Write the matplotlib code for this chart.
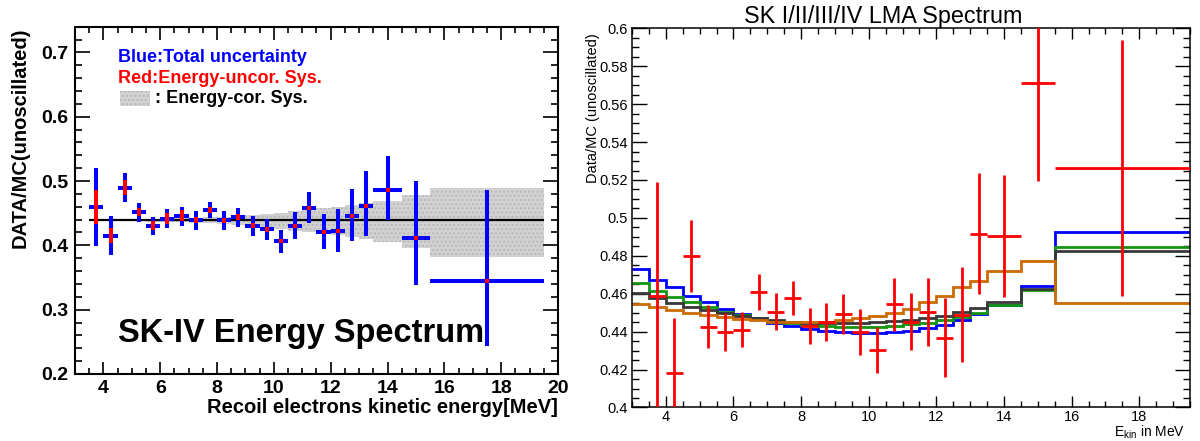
import matplotlib
matplotlib.use("Agg")
import matplotlib.pyplot as plt
from matplotlib.ticker import MultipleLocator
import numpy as np

plt.rcParams["font.family"] = ["Liberation Sans", "DejaVu Sans"]
plt.rcParams["mathtext.fontset"] = "custom"
plt.rcParams["mathtext.rm"] = "Liberation Sans"
plt.rcParams["mathtext.it"] = "Liberation Sans"

# ---- data: energy bins (MeV) ----
bin_lo = [3.5, 4.0, 4.5, 5.0, 5.5, 6.0, 6.5, 7.0, 7.5, 8.0, 8.5, 9.0, 9.5,
          10.0, 10.5, 11.0, 11.5, 12.0, 12.5, 13.0, 13.5, 14.5, 15.5]
bin_hi = [4.0, 4.5, 5.0, 5.5, 6.0, 6.5, 7.0, 7.5, 8.0, 8.5, 9.0, 9.5, 10.0,
          10.5, 11.0, 11.5, 12.0, 12.5, 13.0, 13.5, 14.5, 15.5, 19.5]

# SK-IV data/MC (left panel)
sk4_ratio = [0.4595, 0.415, 0.4898, 0.4519, 0.4307, 0.4416, 0.4457, 0.4395,
             0.4545, 0.439, 0.4437, 0.4307, 0.425, 0.4068, 0.4307, 0.4587,
             0.4203, 0.4224, 0.4452, 0.4618, 0.4862, 0.411, 0.3446]
sk4_tot_lo = [0.06, 0.03, 0.023, 0.015, 0.0145, 0.0143, 0.015, 0.0155, 0.0125,
              0.015, 0.0156, 0.0156, 0.0166, 0.018, 0.0207, 0.0244, 0.0264,
              0.032, 0.0384, 0.048, 0.047, 0.073, 0.101]
sk4_tot_hi = [0.06, 0.03, 0.0225, 0.0146, 0.014, 0.015, 0.0145, 0.0145, 0.0135,
              0.0145, 0.014, 0.015, 0.016, 0.0172, 0.0218, 0.025, 0.0285,
              0.034, 0.042, 0.054, 0.053, 0.089, 0.1416]
sk4_uncor = [0.027, 0.012, 0.012, 0.006, 0.0075, 0.009, 0.0085, 0.004, 0.0045,
             0.004, 0.005, 0.004, 0.004, 0.003, 0.003, 0.003, 0.003, 0.003,
             0.003, 0.003, 0.003, 0.003, 0.003]
flat_ratio = 0.439

# energy-correlated systematic band
band_edges = [5.5, 6.0, 6.5, 7.0, 7.5, 8.0, 8.5, 9.0, 9.5, 10.0, 10.5, 11.0,
              11.5, 12.0, 12.5, 13.0, 13.5, 14.5, 15.5, 19.5]
band_top = [0.441, 0.4415, 0.442, 0.4425, 0.4437, 0.4443, 0.4455, 0.4473,
            0.4488, 0.4509, 0.4535, 0.455, 0.4576, 0.4602, 0.4628, 0.4665,
            0.4696, 0.4784, 0.4888]
band_bot = [0.437, 0.4365, 0.436, 0.4355, 0.4343, 0.4337, 0.432, 0.4302,
            0.4281, 0.4255, 0.4229, 0.421, 0.4188, 0.4162, 0.4136, 0.41,
            0.4058, 0.3965, 0.3825]

# SK I/II/III/IV combined (right panel)
comb_ratio = [0.459, 0.418, 0.48, 0.4427, 0.4397, 0.441, 0.4608, 0.4506,
              0.4576, 0.443, 0.4453, 0.4494, 0.4397, 0.4304, 0.4545, 0.4453,
              0.4503, 0.4369, 0.4489, 0.4916, 0.4905, 0.5714, 0.5262]
comb_err = [0.06, 0.029, 0.019, 0.0114, 0.01, 0.0093, 0.0095, 0.0097, 0.009,
            0.0094, 0.01, 0.0105, 0.012, 0.012, 0.014, 0.015, 0.018, 0.021,
            0.025, 0.032, 0.032, 0.052, 0.0676]

# LMA predictions (stepped)
pred_edges = [3.0, 3.5, 4.0, 4.5, 5.0, 5.5, 6.0, 6.5, 7.0, 7.5, 8.0, 8.5, 9.0,
              9.5, 10.0, 10.5, 11.0, 11.5, 12.0, 12.5, 13.0, 13.5, 14.5, 15.5,
              19.5]
pred_blue = [0.4729, 0.4673, 0.4634, 0.459, 0.4554, 0.452, 0.4492, 0.4471,
             0.4448, 0.4432, 0.4415, 0.4404, 0.4397, 0.4394, 0.4392, 0.4397,
             0.4404, 0.4418, 0.4436, 0.4462, 0.4492, 0.4541, 0.4641, 0.4924]
pred_green = [0.4655, 0.4615, 0.4583, 0.4554, 0.4529, 0.4506, 0.4488, 0.4471,
              0.4457, 0.4445, 0.4436, 0.4431, 0.4427, 0.4423, 0.4423, 0.4431,
              0.4441, 0.4448, 0.4462, 0.4476, 0.4497, 0.4538, 0.462, 0.4845]
pred_gray = [0.4603, 0.4576, 0.455, 0.4532, 0.4515, 0.4497, 0.4485, 0.4471,
             0.4462, 0.4453, 0.4448, 0.4445, 0.4445, 0.4448, 0.445, 0.4457,
             0.4462, 0.4474, 0.4485, 0.4506, 0.4524, 0.4555, 0.4627, 0.4828]
pred_orange = [0.4545, 0.4532, 0.4515, 0.4501, 0.4488, 0.4476, 0.4466, 0.4459,
               0.4453, 0.445, 0.445, 0.4453, 0.4462, 0.4471, 0.4483, 0.4501,
               0.4518, 0.4554, 0.4589, 0.4633, 0.4668, 0.4722, 0.4775, 0.455]

lo = np.array(bin_lo)
hi = np.array(bin_hi)
xc = (lo + hi) / 2
xe = (hi - lo) / 2

fig = plt.figure(figsize=(12, 4.41), dpi=100)
ax1 = fig.add_axes([0.0625, 0.152, 0.4025, 0.7875])
ax2 = fig.add_axes([0.5267, 0.076, 0.465, 0.8598])

# ---------------- left panel ----------------
ax1.stairs(band_top, band_edges, baseline=band_bot, fill=True,
           facecolor="#d2d2d2", edgecolor="#b8b8b8", hatch="....", lw=0, zorder=1)
ax1.hlines(flat_ratio, 3.5, 19.5, color="black", lw=1.6, zorder=2)
ax1.errorbar(xc, sk4_ratio, xerr=xe, yerr=[sk4_tot_lo, sk4_tot_hi], fmt="none",
             ecolor="#0000ff", elinewidth=2.9, capsize=0, zorder=3)
ax1.errorbar(xc, sk4_ratio, yerr=sk4_uncor, fmt="none",
             ecolor="#ff0000", elinewidth=2.9, capsize=0, zorder=4)

ax1.set_xlim(3, 20)
ax1.set_ylim(0.2, 0.74)
ax1.xaxis.set_major_locator(MultipleLocator(2))
ax1.xaxis.set_minor_locator(MultipleLocator(0.5))
ax1.yaxis.set_major_locator(MultipleLocator(0.1))
ax1.yaxis.set_minor_locator(MultipleLocator(0.02))
ax1.tick_params(which="both", direction="in", top=True, right=True, width=1.2)
ax1.tick_params(axis="y", which="major", length=11, pad=5)
ax1.tick_params(axis="y", which="minor", length=5)
ax1.tick_params(axis="x", which="major", length=9, pad=4)
ax1.tick_params(axis="x", which="minor", length=4.5)
for lab in ax1.get_xticklabels() + ax1.get_yticklabels():
    lab.set_fontweight("bold")
    lab.set_fontsize(14)
for sp in ax1.spines.values():
    sp.set_linewidth(1.5)

fig.text(0.017, 0.937, "DATA/MC(unoscillated)", rotation=90, ha="center",
         va="top", fontsize=14.5, fontweight="bold")
fig.text(0.465, 0.077, "Recoil electrons kinetic energy[MeV]", ha="right",
         va="center", fontsize=14.5, fontweight="bold")

ax1.text(0.089, 0.91, "Blue:Total uncertainty", transform=ax1.transAxes,
         color="#0000ff", fontsize=13, fontweight="bold", va="center")
ax1.text(0.089, 0.852, "Red:Energy-uncor. Sys.", transform=ax1.transAxes,
         color="#ff0000", fontsize=13, fontweight="bold", va="center")
ax1.add_patch(plt.Rectangle((0.093, 0.772), 0.062, 0.043, transform=ax1.transAxes,
                            facecolor="#d2d2d2", edgecolor="#b8b8b8", hatch="....",
                            lw=0))
ax1.text(0.165, 0.792, ": Energy-cor. Sys.", transform=ax1.transAxes,
         color="black", fontsize=13, fontweight="bold", va="center")
ax1.text(0.089, 0.092, "SK-IV Energy Spectrum", transform=ax1.transAxes,
         fontsize=23.5, fontweight="bold", va="baseline")

# ---------------- right panel ----------------
ax2.stairs(pred_blue, pred_edges, color="#0000ff", lw=2.0, baseline=None, zorder=2)
ax2.stairs(pred_green, pred_edges, color="#129612", lw=2.0, baseline=None, zorder=2)
ax2.stairs(pred_gray, pred_edges, color="#383838", lw=2.0, baseline=None, zorder=2)
ax2.stairs(pred_orange, pred_edges, color="#cc6a00", lw=2.0, baseline=None, zorder=2)
ax2.errorbar(xc, comb_ratio, xerr=xe, yerr=comb_err, fmt="none",
             ecolor="#ff0000", elinewidth=2.0, capsize=0, zorder=3)

ax2.set_xlim(3, 19.5)
ax2.set_ylim(0.4, 0.6)
ax2.xaxis.set_major_locator(MultipleLocator(2))
ax2.xaxis.set_minor_locator(MultipleLocator(0.5))
ax2.yaxis.set_major_locator(MultipleLocator(0.02))
ax2.yaxis.set_minor_locator(MultipleLocator(0.005))
ax2.yaxis.set_major_formatter(plt.FuncFormatter(lambda v, p: f"{v:g}"))
ax2.tick_params(which="both", direction="in", top=True, right=True, width=1.0,
                labelsize=10.5)
ax2.tick_params(axis="y", which="major", length=11, pad=3)
ax2.tick_params(axis="y", which="minor", length=5)
ax2.tick_params(axis="x", which="major", length=8, pad=2)
ax2.tick_params(axis="x", which="minor", length=4)
for sp in ax2.spines.values():
    sp.set_linewidth(1.1)

ax2.set_title("SK I/II/III/IV LMA Spectrum", fontsize=16.8, x=0.45, pad=2)
fig.text(0.4945, 0.925, "Data/MC (unoscillated)", rotation=90, ha="center",
         va="top", fontsize=10.5)
fig.text(0.9875, 0.011, r"E$_{\mathrm{kin}}$ in MeV", ha="right", va="baseline",
         fontsize=10)

fig.savefig("out.png", dpi=100)
